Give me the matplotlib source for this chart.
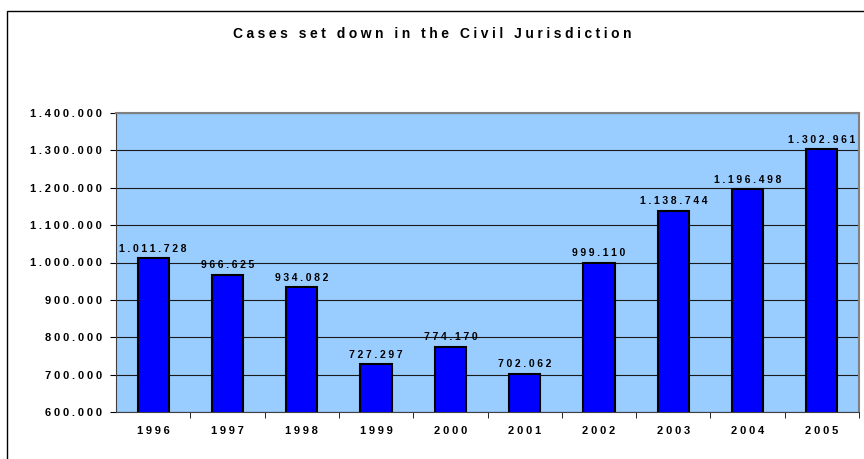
import matplotlib.pyplot as plt
from matplotlib.patches import Rectangle
from matplotlib.ticker import FuncFormatter, FixedLocator

years = ["1996", "1997", "1998", "1999", "2000", "2001", "2002", "2003", "2004", "2005"]
cases = [1011728, 966625, 934082, 727297, 774170, 702062, 999110, 1138744, 1196498, 1302961]
yticks = [600000, 700000, 800000, 900000, 1000000, 1100000, 1200000, 1300000, 1400000]

GAP = "\u2005"  # four-per-em space, mimics the wide letter spacing


def spaced(s):
    return GAP.join(s)


def dotted(v):
    return spaced(f"{int(v):,}".replace(",", "."))


plt.rcParams['font.family'] = ['Liberation Sans', 'DejaVu Sans']

fig = plt.figure(figsize=(8.64, 4.59), dpi=100)
W, H = 864, 459

# outer chart frame
fig.patches.append(Rectangle((7 / W, -0.1), 1.2, 1 - 11 / H + 0.1, transform=fig.transFigure,
                             fill=False, edgecolor="black", linewidth=1.0))

ax = fig.add_axes([116 / W, 1 - 412 / H, (859 - 116) / W, (412 - 113) / H])
ax.set_facecolor("#99ccff")

x = list(range(len(years)))
ax.bar(x, cases, width=0.42, color="#0000ff", edgecolor="black", linewidth=1.5, zorder=3)

ax.set_ylim(600000, 1400000)
ax.set_xlim(-0.5, len(years) - 0.5)
ax.set_yticks(yticks)
ax.yaxis.set_major_formatter(FuncFormatter(lambda v, p: dotted(v)))
ax.grid(axis="y", color="#1a1a1a", linewidth=0.8, zorder=1)

ax.set_xticks(x)
ax.set_xticklabels([spaced(y) for y in years], fontsize=8, fontweight="bold")
ax.tick_params(axis="x", length=0, pad=10)
ax.xaxis.set_minor_locator(FixedLocator([i + 0.5 for i in range(len(years))]))
ax.tick_params(axis="x", which="minor", length=4, color="black", direction="out")
ax.tick_params(axis="y", length=4, labelsize=8, pad=6)
for lbl in ax.get_yticklabels():
    lbl.set_fontweight("bold")

for s in ["left", "bottom"]:
    ax.spines[s].set_color("#404040")
for s in ["top", "right"]:
    ax.spines[s].set_color("#808080")
    ax.spines[s].set_linewidth(1.5)

for xi, v in zip(x, cases):
    ax.text(xi, v + 12000, dotted(v), ha="center", va="bottom", fontsize=7.5, fontweight="bold", zorder=4)

fig.text(0.5, 1 - 34 / H, spaced("Cases set down in the Civil Jurisdiction"), ha="center", va="center",
         fontsize=10, fontweight="bold")

fig.savefig("out.png", dpi=100)
